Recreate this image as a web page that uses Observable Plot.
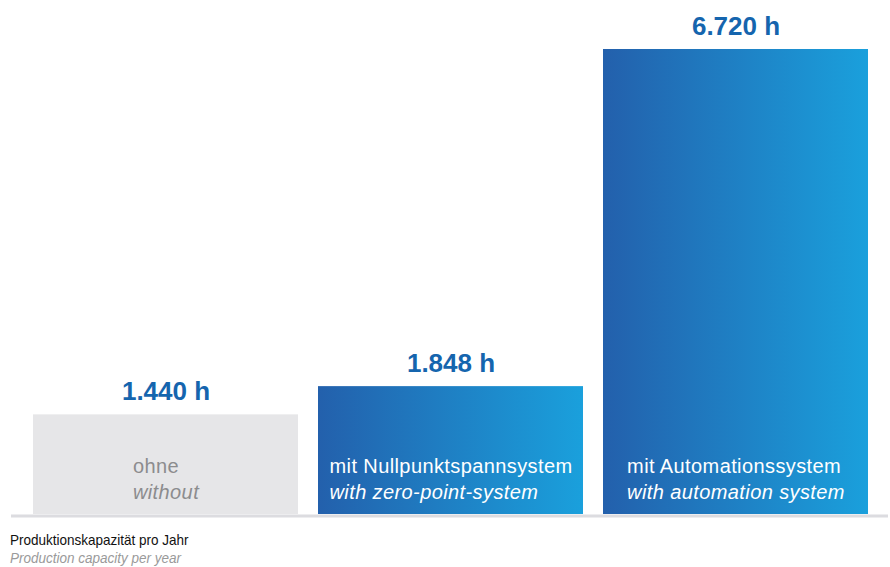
<!DOCTYPE html>
<html><head><meta charset="utf-8">
<script src="https://cdn.jsdelivr.net/npm/d3@7"></script>
<script src="https://cdn.jsdelivr.net/npm/@observablehq/plot@0.6"></script>
<style>
html,body{margin:0;padding:0;background:#fff;}
#chart svg{display:block;}
#chart .lblde text, #chart .lblen text{letter-spacing:0.4px;}
#cap{font-family:"Liberation Sans",Arial,sans-serif;font-size:15px;line-height:18px;padding-left:11px;padding-top:9px;transform:scaleX(0.9);transform-origin:0 0;}
#cap .de{color:#111;}
#cap .en{color:#9a9a9a;font-style:italic;}
</style></head><body>
<div id="chart"></div>
<div id="cap"><div class="de">Produktionskapazität pro Jahr</div><div class="en">Production capacity per year</div></div>
<script>
const labelsDe = ["ohne", "mit Nullpunktspannsystem", "mit Automationssystem"];
const labelsEn = ["without", "with zero-point-system", "with automation system"];
const hours = [1440, 1848, 6720];
const valueLabels = ["1.440 h", "1.848 h", "6.720 h"];

const data = labelsDe.map((de, i) => ({de, en: labelsEn[i], value: hours[i], label: valueLabels[i], highlight: i > 0}));

const NS = "http://www.w3.org/2000/svg";
function gradientDefs() {
  const defs = document.createElementNS(NS, "defs");
  const lg = document.createElementNS(NS, "linearGradient");
  lg.setAttribute("id", "barGrad");
  lg.setAttribute("x1", "0"); lg.setAttribute("x2", "1");
  lg.setAttribute("y1", "0"); lg.setAttribute("y2", "0");
  [["0%", "#2360ac"], ["100%", "#1aa0dc"]].forEach(([o, c]) => {
    const s = document.createElementNS(NS, "stop");
    s.setAttribute("offset", o); s.setAttribute("stop-color", c);
    lg.appendChild(s);
  });
  defs.appendChild(lg);
  return defs;
}

const valFont = '"Liberation Sans", Arial, sans-serif';
const inFont = '"Liberation Sans", Arial, sans-serif';

const chart = Plot.plot({
  width: 890,
  height: 522,
  marginTop: 49,
  marginBottom: 8,
  marginLeft: 32,
  marginRight: 21,
  x: {type: "band", domain: labelsDe, paddingInner: 0.07, paddingOuter: 0, axis: null},
  y: {domain: [0, 6720], axis: null},
  marks: [
    gradientDefs,
    Plot.barY(data.filter(d => !d.highlight), {x: "de", y: "value", fill: "#e6e6e8"}),
    Plot.barY(data.filter(d => d.highlight), {x: "de", y: "value", fill: "url(#barGrad)"}),
    Plot.ruleY([0], {stroke: "#dcdce0", strokeWidth: 3, dy: 1.5, insetLeft: -21, insetRight: -19}),
    Plot.text(data, {x: "de", y: "value", text: "label", textAnchor: "middle", lineAnchor: "bottom", dy: -15,
      fill: "#1565ae", fontSize: 26, fontWeight: "bold", fontFamily: valFont}),
    Plot.text(data, {x: "de", y: () => 0, text: "de", textAnchor: "start", lineAnchor: "bottom", dy: -42,
      fill: d => d.highlight ? "#ffffff" : "#8c8c8e", fontSize: 20, fontFamily: inFont, className: "lblde"}),
    Plot.text(data, {x: "de", y: () => 0, text: "en", textAnchor: "start", lineAnchor: "bottom", dy: -16,
      fill: d => d.highlight ? "#ffffff" : "#8c8c8e", fontSize: 20, fontStyle: "italic", fontFamily: inFont, className: "lblen"})
  ]
});
document.getElementById("chart").appendChild(chart);

// center each two-line, left-aligned label block within its bar
const deTexts = chart.querySelectorAll(".lblde text");
const enTexts = chart.querySelectorAll(".lblen text");
deTexts.forEach((t, i) => {
  const e = enTexts[i];
  const w = Math.max(t.getComputedTextLength(), e.getComputedTextLength());
  t.setAttribute("x", -w / 2);
  e.setAttribute("x", -w / 2);
});
</script>
</body></html>
